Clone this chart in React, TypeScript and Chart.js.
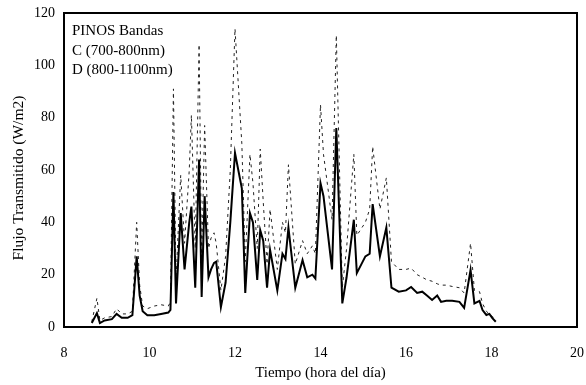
import React, { useEffect, useRef } from "react";
import { Chart, registerables } from "chart.js";

Chart.register(...registerables);

const hours = [
  8.65, 8.77, 8.84, 8.95, 9.12, 9.23, 9.35, 9.49, 9.6, 9.7, 9.77, 9.84, 9.95, 10.11, 10.27, 10.44, 10.49,
  10.56, 10.62, 10.73, 10.82, 10.93, 10.98, 11.07, 11.16, 11.22, 11.29, 11.38, 11.44, 11.51, 11.56, 11.67,
  11.78, 11.89, 12.0, 12.16, 12.24, 12.35, 12.42, 12.52, 12.59, 12.66, 12.75, 12.82, 12.99, 13.11, 13.18,
  13.25, 13.41, 13.58, 13.69, 13.81, 13.88, 14.0, 14.07, 14.27, 14.37, 14.51, 14.61, 14.78, 14.85, 15.05,
  15.15, 15.22, 15.39, 15.54, 15.66, 15.83, 16.0, 16.12, 16.26, 16.38, 16.49, 16.61, 16.73, 16.82, 16.94,
  17.08, 17.25, 17.36, 17.51, 17.6, 17.72, 17.79, 17.88, 17.95, 18.02, 18.1,
];

const bandC = [
  1.5, 5.3, 1.5, 2.5, 3, 5, 3.5, 3.5, 4.5, 27, 12, 6, 4.5, 4.5, 5, 5.5, 6.5,
  51.6, 9, 43.5, 22, 40, 46, 15, 64, 11.5, 50, 19, 22, 24.5, 25, 7.6,
  17, 40, 66.5, 53, 13, 43.5, 40, 18, 37, 33, 15, 29.5, 14, 28, 26,
  38, 15, 25.6, 19, 20, 18.5, 55, 50, 22, 76, 9, 19, 41, 20.6, 27,
  28, 47, 27, 38, 15, 13.5, 14, 15.3, 13, 13.5, 12, 10.3, 12, 9.6, 10,
  10, 9.6, 7.3, 21.8, 9, 10, 6.5, 4.6, 5, 3.4, 2,
];

const bandD = [
  2, 11, 2.5, 3.5, 4, 7, 5, 5, 6, 40, 16, 8, 7, 8, 8.5, 8, 9.5,
  91, 18, 58, 32, 60, 81, 30, 108, 25, 77, 30, 34, 36, 32, 14,
  27, 60, 114, 70, 25, 66, 55, 30, 68, 48, 24, 45, 22, 40, 36,
  62, 24, 33, 28, 31, 28, 85, 66, 41, 111.5, 15, 30, 66, 35, 40,
  45, 69, 45, 57, 25, 22, 22, 22.5, 20, 19, 18, 17.5, 16.5, 16, 16,
  15.5, 15, 13, 32, 14, 13.5, 9, 6, 5, 4, 3,
];

const legendLines = ["PINOS Bandas", "C (700-800nm)", "D (800-1100nm)"];
const xTitle = "Tiempo (hora del día)";
const yTitle = "Flujo Transmitido (W/m2)";

const SERIF = "'Liberation Serif', 'DejaVu Serif', serif";

export default function App() {
  const ref = useRef<HTMLCanvasElement | null>(null);

  useEffect(() => {
    document.body.style.margin = "0";
    const canvas = ref.current;
    if (!canvas) return;

    const framePlugin = {
      id: "frameAndNotes",
      afterDatasetsDraw(chart: any) {
        const { ctx, chartArea } = chart;
        ctx.save();
        ctx.strokeStyle = "#000";
        ctx.lineWidth = 2;
        ctx.strokeRect(chartArea.left, chartArea.top, chartArea.right - chartArea.left, chartArea.bottom - chartArea.top);
        ctx.fillStyle = "#000";
        ctx.font = `15px ${SERIF}`;
        ctx.textBaseline = "alphabetic";
        ctx.textAlign = "left";
        legendLines.forEach((t, i) => {
          ctx.fillText(t, chartArea.left + 8, chartArea.top + 22 + i * 19.5);
        });
        // y-axis title
        ctx.save();
        ctx.translate(18.5, (chartArea.top + chartArea.bottom) / 2 + 8);
        ctx.rotate(-Math.PI / 2);
        ctx.textAlign = "center";
        ctx.textBaseline = "middle";
        ctx.font = `15.5px ${SERIF}`;
        ctx.fillText(yTitle, 0, 0);
        ctx.restore();
        ctx.restore();
      },
    };

    const chart = new Chart(canvas, {
      type: "line",
      data: {
        datasets: [
          {
            label: "C (700-800nm)",
            data: hours.map((h, i) => ({ x: h, y: bandC[i] })),
            borderColor: "#000",
            borderWidth: 2,
            pointRadius: 0,
            tension: 0,
            fill: false,
          },
          {
            label: "D (800-1100nm)",
            data: hours.map((h, i) => ({ x: h, y: bandD[i] })),
            borderColor: "#222",
            borderWidth: 1,
            borderDash: [3, 4],
            pointRadius: 0,
            tension: 0,
            fill: false,
          },
        ],
      },
      options: {
        responsive: false,
        animation: false,
        layout: { padding: { left: 0, right: 9, top: 13, bottom: 0 } },
        plugins: {
          legend: { display: false },
          tooltip: { enabled: false },
        },
        scales: {
          x: {
            type: "linear",
            min: 8,
            max: 20,
            grid: { display: false, drawTicks: false, tickLength: 0 },
            border: { display: false },
            ticks: {
              stepSize: 2,
              color: "#000",
              padding: 0,
              font: { family: SERIF, size: 14, lineHeight: 3.8 },
            },
            title: {
              display: true,
              text: xTitle,
              color: "#000",
              font: { family: SERIF, size: 15 },
              padding: { top: 2, bottom: 3 },
            },
            afterFit: (s: any) => {
              s.height = 58;
            },
          },
          y: {
            min: 0,
            max: 120,
            grid: { display: false, drawTicks: false, tickLength: 0 },
            border: { display: false },
            ticks: {
              stepSize: 20,
              color: "#000",
              padding: 9,
              font: { family: SERIF, size: 14, lineHeight: 0.5 },
            },
            title: { display: false },
            afterFit: (s: any) => {
              s.width = 64;
            },
          },
        },
      },
      plugins: [framePlugin],
    });

    return () => chart.destroy();
  }, []);

  return (
    <div style={{ width: 586, height: 385, background: "#fff" }}>
      <canvas ref={ref} width={586} height={385} style={{ display: "block" }} />
    </div>
  );
}
